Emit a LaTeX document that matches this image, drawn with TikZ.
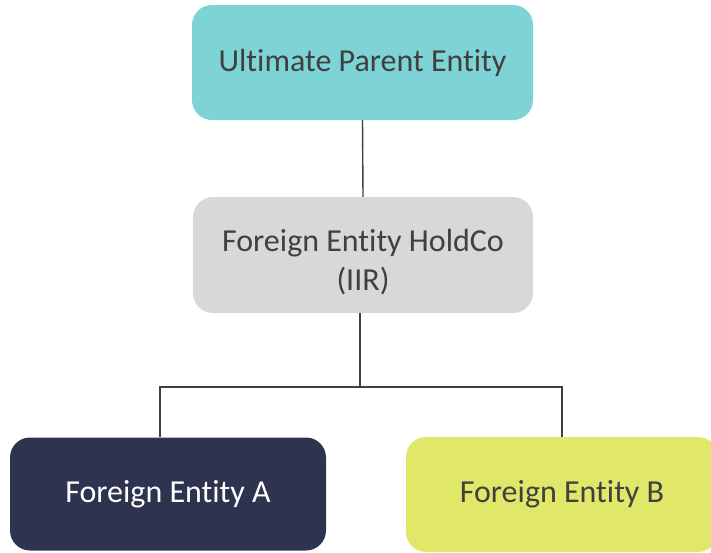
\documentclass[tikz,border=0pt]{standalone}
\usepackage{fontspec}
\setmainfont{Carlito}[Ligatures = NoCommon]
\definecolor{upeteal}{HTML}{7DD3D5}
\definecolor{holdgray}{HTML}{D9D8D6}
\definecolor{entnavy}{HTML}{2E3450}
\definecolor{entlime}{HTML}{E1E769}
\definecolor{inkgray}{HTML}{404040}
\tikzset{
    entbox/.style = {rounded corners = 20pt, inner sep = 0pt, align = center,
        text = inkgray, font = \fontsize{32}{39}\selectfont},
    link/.style = {draw = inkgray, line width = 1.4pt}
}
\begin{document}
\begin{tikzpicture}[x = 1pt, y = -1pt]
        \useasboundingbox (0, 0) rectangle (711, 552);
        \node[entbox, fill = upeteal, minimum width = 341pt, minimum height = 115pt] (upe) at (362.5, 62.5) {Ultimate Parent Entity};
        \node[entbox, fill = holdgray, minimum width = 340pt, minimum height = 116pt] (hold) at (363, 255) {\rule{0pt}{36pt}Foreign Entity HoldCo\\(IIR)};
        \node[entbox, fill = entnavy, text = white, minimum width = 316pt, minimum height = 113pt] (enta) at (168, 494) {Foreign Entity A};
        \node[entbox, fill = entlime, minimum width = 312pt, minimum height = 115pt] (entb) at (562, 494.5) {Foreign Entity B};
        \coordinate (split) at (360, 387);
        \draw[link] (upe.south) -- (hold.north);
        \draw[link] (hold.south -| split) -- (split);
        \draw[link] ([xshift = -8pt]enta.north) |- (split) -| (entb.north);
    \end{tikzpicture}
\end{document}
